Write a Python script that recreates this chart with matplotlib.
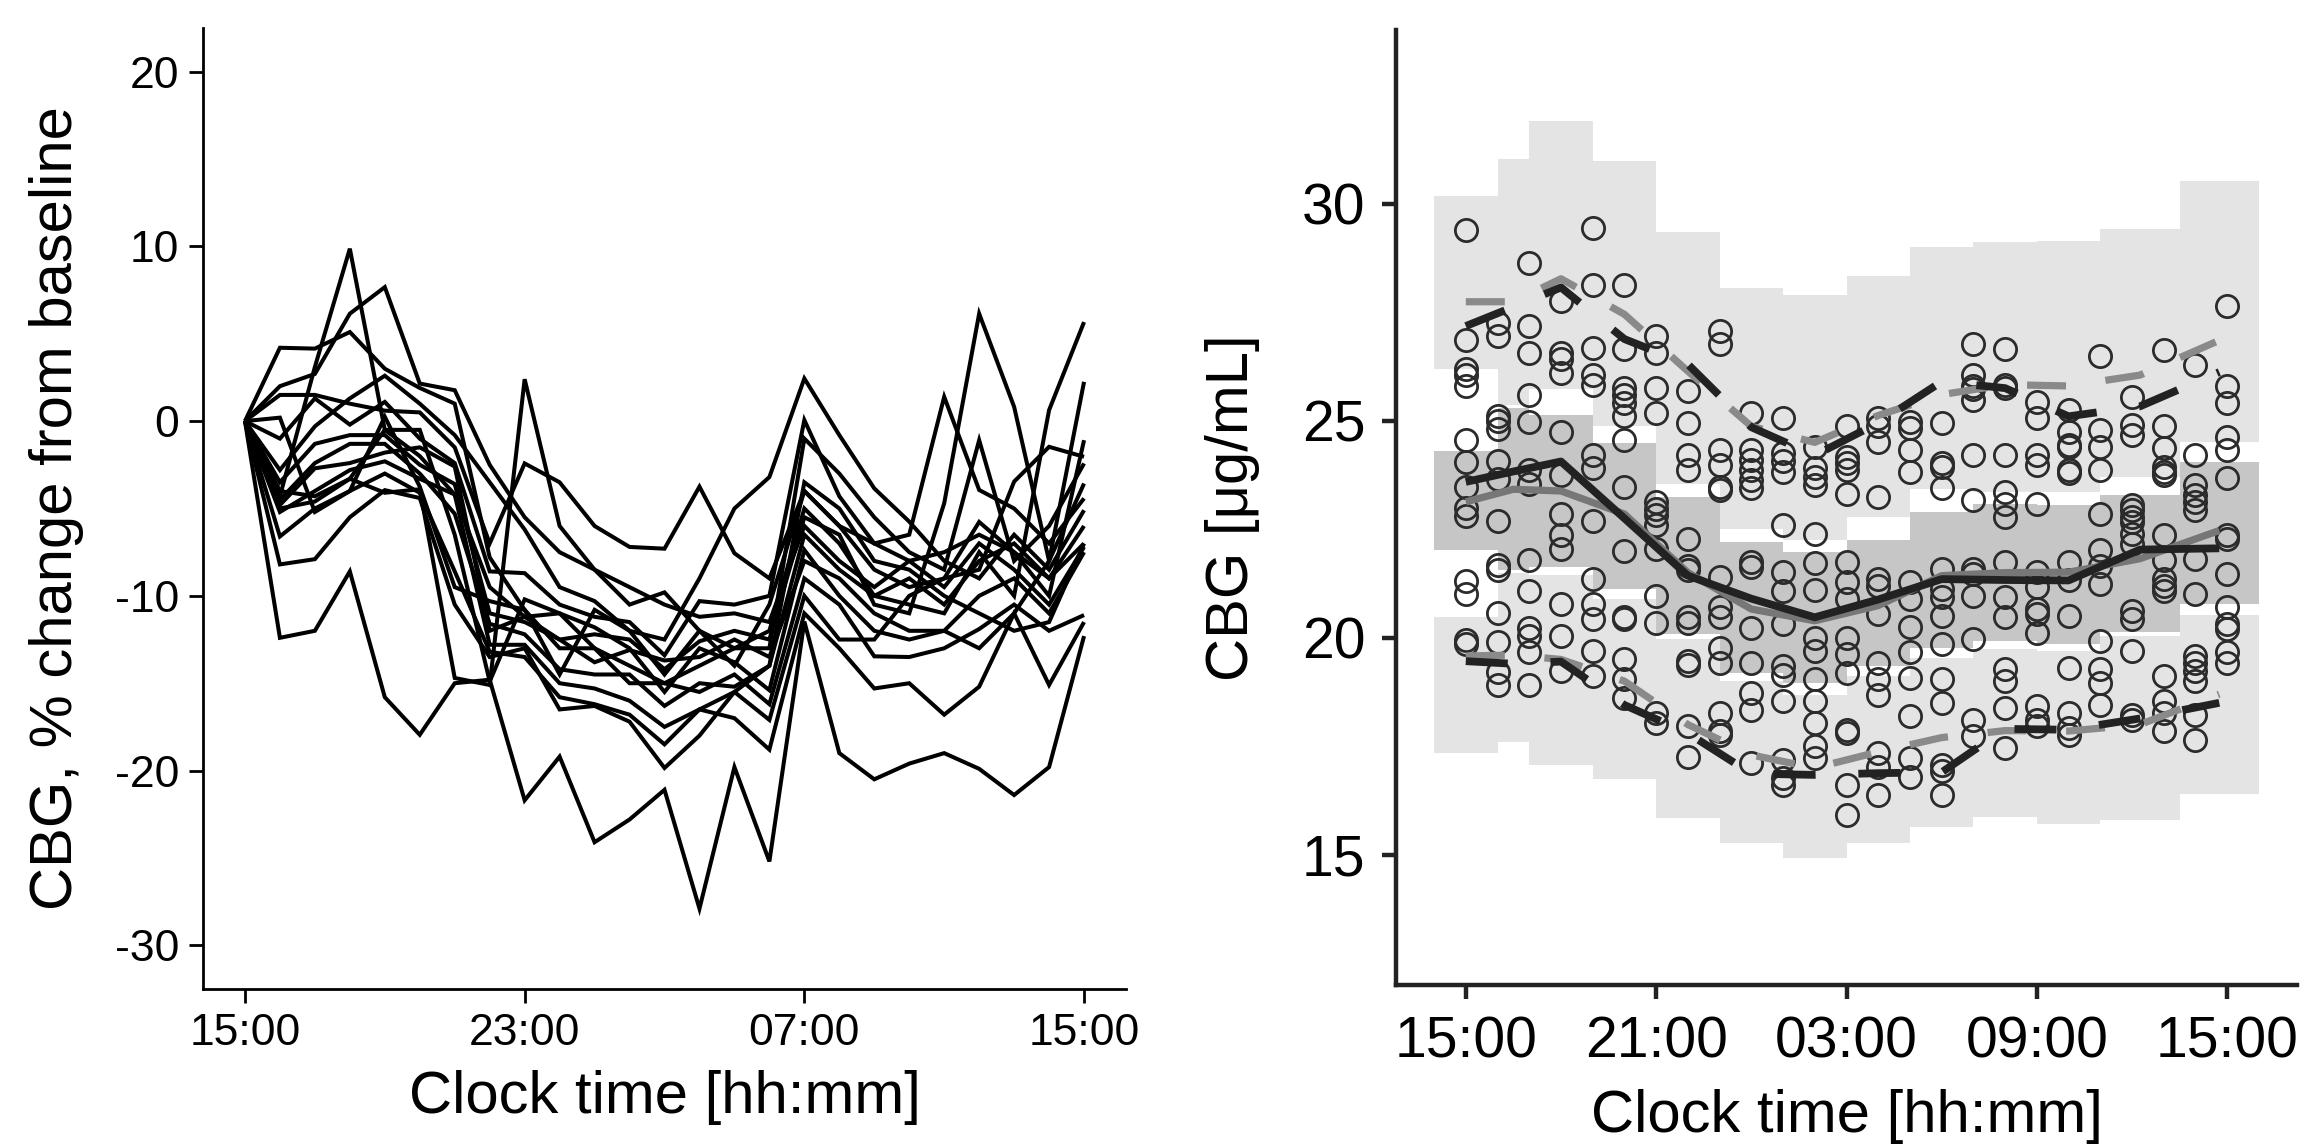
import matplotlib
matplotlib.use("Agg")
import matplotlib.pyplot as plt
import numpy as np

plt.rcParams['font.family'] = ['Liberation Sans', 'DejaVu Sans']

# ---------------- left panel: % change from baseline per subject ----------------
hours = list(range(25))
s01 = [0, -12.4, -12.0, -8.6, -15.8, -17.95, -15.0, -14.8, -21.7, -19.2, -24.1, -22.8, -21.1, -27.9, -19.8, -25.2, -11.47, -19.0, -20.5, -19.6, -19.0, -19.9, -21.4, -19.8, -12.3]
s02 = [0, -5.0, -4.6, -3.3, -4.1, -3.9, -14.7, -15.1, 2.4, -6.0, -8.5, -10.5, -9.8, -12.0, -13.0, -12.0, -5.0, -7.0, -10.0, -9.0, -10.5, -8.0, -7.0, -9.0, -7.0]
s03 = [0, -4.3, 3.1, 9.87, -0.5, -2.0, -4.2, -9.5, -11.2, -12.5, -13.8, -13.1, -13.7, -13.5, -12.5, -13.5, -8.0, -9.0, -11.0, -12.0, -12.0, -10.0, -9.0, -11.0, -7.5]
s04 = [0, 2.0, 2.7, 6.15, 7.67, 2.15, 1.77, -2.5, -5.5, -7.5, -8.5, -9.5, -10.5, -11.2, -11.0, -11.5, -6.0, -8.0, -9.5, -8.0, -9.5, -7.0, -8.5, -10.5, -7.2]
s05 = [0, 4.2, 4.15, 5.1, 3.0, 1.9, 1.0, -7.8, -10.8, -13.0, -13.0, -15.0, -15.0, -15.5, -14.5, -16.2, -9.0, -10.5, -13.46, -13.5, -13.0, -11.9, -10.5, -12.0, -11.1]
s06 = [0, 1.5, 1.5, 1.0, 0.6, 0.5, -1.5, -7.0, -2.42, -3.5, -6.0, -7.2, -7.3, -3.75, -7.56, -9.0, -4.0, -6.0, -7.0, -8.0, -7.5, -6.5, -7.5, -9.0, -6.0]
s07 = [0, -2.8, -0.3, 1.3, 2.6, 1.0, -0.8, -3.5, -6.2, -9.5, -10.3, -12.0, -12.5, -9.0, -5.0, -3.2, 2.44, -0.8, -3.85, -5.75, -8.0, -9.0, -6.5, -8.5, -5.1]
s08 = [0, -1.0, 1.3, -0.2, 1.1, -1.0, -2.4, -8.6, -8.7, -10.5, -11.2, -11.5, -13.4, -10.3, -10.5, -10.0, 0.06, -4.3, -7.0, -6.5, 1.39, -3.94, -5.0, -7.0, -4.42]
s09 = [0, -3.5, -1.3, -0.8, -0.8, -2.5, -3.6, -11.0, -11.5, -12.5, -12.2, -12.5, -14.2, -12.6, -12.0, -12.5, -5.5, -6.5, -10.5, -11.0, -4.7, 6.15, 0.82, -8.0, -3.57]
s10 = [0, -4.5, -2.4, -1.3, -1.3, -3.0, -5.3, -11.6, -12.2, -14.2, -14.5, -14.5, -16.3, -15.0, -15.2, -14.0, -6.5, -8.5, -10.0, -10.5, -11.0, -7.5, -10.0, 0.63, 5.67]
s11 = [0, -4.8, -2.7, -2.4, -1.8, -1.5, -2.6, -12.0, -11.2, -11.0, -11.8, -13.0, -15.5, -13.0, -13.8, -15.4, -7.37, -10.0, -12.0, -12.5, -12.0, -13.0, -11.0, -8.0, 2.25]
s12 = [0, -5.2, -4.0, -2.8, -2.3, -3.3, -4.2, -12.8, -12.8, -15.0, -15.3, -16.0, -17.5, -16.5, -15.5, -17.1, -10.0, -12.5, -12.5, -10.0, -9.0, -8.5, -3.46, -1.47, -2.04]
s13 = [0, -6.6, -5.0, -4.0, -3.0, -4.1, -8.6, -13.2, -13.5, -15.8, -16.2, -16.8, -18.5, -16.5, -17.0, -18.8, -11.0, -13.0, -15.3, -15.0, -16.8, -15.2, -11.0, -15.1, -11.5]
s14 = [0, -8.2, -7.9, -5.5, -3.95, -4.4, -10.5, -13.5, -13.0, -16.5, -16.3, -17.2, -19.85, -18.0, -15.5, -14.0, -3.5, -5.0, -8.0, -8.5, -10.0, -11.0, -12.0, -11.5, -7.0]
s15 = [0, -4.0, -4.3, -3.3, -0.5, -0.5, -6.5, -14.9, -10.2, -11.0, -13.0, -14.0, -15.0, -14.0, -13.0, -13.0, -1.0, -3.0, -5.5, -7.5, -8.5, -1.09, -8.0, -6.0, -2.42]
s16 = [0, 0.2, -5.2, -4.0, 0.25, -3.75, -9.5, -10.3, -10.8, -14.5, -10.8, -12.0, -14.5, -12.0, -14.0, -10.5, -4.0, -6.0, -8.5, -9.5, -9.0, -5.77, -7.5, -10.0, -1.09]
subjects = [s01, s02, s03, s04, s05, s06, s07, s08, s09, s10, s11, s12, s13, s14, s15, s16]

left_xticks = [0, 8, 16, 24]
left_xlabels = ['15:00', '23:00', '07:00', '15:00']
left_yticks = [-30, -20, -10, 0, 10, 20]
left_ylabels = ['-30', '-20', '-10', '0', '10', '20']

# ---------------- right panel: VPC ----------------
bin_edges = [-1, 1, 2, 4, 6, 8, 10, 12, 14, 16, 18, 20, 22.5, 25]
hi_top = [30.17, 31.02, 31.9, 30.99, 29.34, 28.05, 27.9, 28.34, 29.01, 29.11, 29.14, 29.42, 30.53]
hi_bot = [26.18, 25.35, 25.72, 24.87, 23.55, 22.51, 22.24, 22.78, 23.42, 23.36, 23.36, 23.71, 24.52]
med_top = [24.31, 25.29, 25.14, 24.48, 23.25, 22.2, 21.97, 22.24, 22.9, 23.09, 23.05, 23.28, 24.04]
med_bot = [22.01, 21.55, 21.62, 21.12, 20.08, 19.19, 18.96, 19.35, 19.77, 19.93, 19.85, 20.13, 20.78]
lo_top = [20.47, 21.5, 21.45, 20.89, 19.97, 19.0, 18.69, 19.12, 19.54, 19.73, 19.69, 20.04, 20.52]
lo_bot = [17.34, 17.59, 17.07, 16.74, 15.85, 15.26, 14.92, 15.27, 15.64, 15.86, 15.7, 15.8, 16.41]

bin_mid = [0, 1.5, 3, 5, 7, 9, 11, 13, 15, 17, 19, 21.25, 23.75]
obs_p50 = [23.59, 23.83, 24.06, 22.75, 21.43, 20.9, 20.47, 20.88, 21.35, 21.33, 21.32, 22.03, 22.06]
sim_p50 = [23.13, 23.42, 23.38, 22.85, 21.5, 20.66, 20.39, 20.74, 21.43, 21.5, 21.51, 21.82, 22.47]
obs_p95 = [27.18, 27.62, 28.07, 26.88, 26.3, 24.85, 24.2, 24.95, 25.9, 25.75, 25.1, 25.33, 26.12]
sim_p95 = [27.74, 27.74, 28.27, 27.45, 26.14, 24.87, 24.5, 25.12, 25.6, 25.83, 25.8, 26.05, 26.85]
obs_p05 = [19.46, 19.4, 19.45, 18.45, 17.8, 16.87, 16.84, 16.88, 16.9, 17.9, 17.88, 18.14, 18.5]
sim_p05 = [19.58, 19.6, 19.5, 19.0, 18.0, 17.3, 17.0, 17.37, 17.7, 17.86, 17.85, 18.0, 18.7]

c00 = [29.4, 26.85, 26.2, 26.05, 25.8, 24.55, 24.05, 23.48, 23.0, 22.8, 21.3, 21.0, 19.95, 19.85]
c01 = [27.25, 26.95, 25.1, 25.0, 24.8, 24.07, 23.65, 22.68, 21.68, 21.57, 20.58, 19.9, 19.2, 18.9]
c02 = [28.63, 27.18, 26.57, 25.6, 24.98, 23.86, 23.55, 21.78, 21.08, 20.23, 20.04, 19.66, 18.9]
c03 = [27.76, 26.57, 26.41, 26.1, 24.75, 23.75, 22.86, 22.36, 22.05, 20.78, 20.04, 19.23]
c04 = [29.44, 28.13, 26.67, 26.06, 25.83, 24.21, 23.9, 22.7, 21.35, 20.78, 20.43, 19.69, 19.12]
c05 = [28.13, 26.64, 25.75, 25.6, 25.4, 25.1, 24.56, 23.48, 22.0, 20.47, 20.42, 19.5, 19.04, 18.61]
c06 = [26.95, 26.57, 25.75, 25.18, 23.13, 22.97, 22.82, 22.59, 22.05, 20.97, 20.35, 18.27, 18.03]
c07 = [25.68, 24.94, 24.21, 23.86, 22.28, 21.66, 21.55, 20.47, 20.35, 19.46, 19.38, 17.96, 17.26]
c08 = [27.07, 26.76, 24.33, 23.98, 23.48, 23.4, 21.4, 20.7, 20.47, 19.77, 19.42, 18.27, 17.84, 17.76]
c09 = [25.18, 24.33, 24.1, 23.86, 23.63, 23.44, 21.74, 21.62, 20.23, 19.42, 18.73, 18.34, 17.11]
c10 = [25.06, 24.25, 24.06, 23.82, 22.59, 21.51, 21.08, 20.31, 19.35, 19.15, 18.54, 17.19, 16.76, 16.6]
c11 = [24.4, 23.9, 23.71, 23.52, 22.4, 21.72, 21.1, 20.0, 19.69, 19.04, 18.54, 18.03, 17.5, 17.22]
c12 = [24.87, 24.17, 24.02, 23.86, 23.32, 21.74, 21.28, 20.89, 20.0, 19.62, 19.19, 17.88, 17.8, 16.6, 15.91]
c13 = [25.06, 24.87, 24.52, 23.25, 21.35, 21.2, 20.54, 19.42, 19.04, 18.69, 17.34, 17.03, 16.38]
c14 = [24.98, 24.83, 24.33, 23.82, 21.28, 20.89, 20.25, 19.66, 19.08, 18.19, 17.22, 16.8]
c15 = [24.94, 24.02, 23.94, 23.44, 21.59, 21.12, 20.93, 20.5, 19.85, 19.04, 18.5, 17.07, 16.92, 16.38]
c16 = [26.77, 26.06, 25.79, 25.72, 25.48, 24.21, 23.17, 21.59, 21.47, 20.97, 19.97, 18.11, 17.73]
c17 = [26.64, 25.83, 25.75, 24.21, 23.36, 23.09, 22.78, 21.74, 20.93, 20.47, 19.27, 19.0, 18.38, 17.45]
c18 = [25.44, 25.06, 24.21, 23.98, 23.09, 21.51, 21.16, 20.66, 20.54, 20.12, 18.42, 18.11, 17.96]
c19 = [25.25, 24.75, 24.44, 24.4, 23.86, 23.79, 21.74, 21.32, 20.5, 19.31, 18.27, 17.92, 17.76]
c20 = [26.49, 24.79, 24.4, 23.86, 22.86, 22.01, 21.66, 21.24, 19.93, 19.27, 18.96, 18.46]
c21 = [25.54, 24.91, 24.67, 23.05, 22.94, 22.78, 22.67, 22.4, 22.17, 20.62, 20.43, 19.69, 18.23, 18.11]
c22 = [26.62, 24.87, 24.37, 23.94, 23.82, 23.75, 22.36, 21.78, 21.35, 21.2, 21.08, 19.12, 18.54, 18.27, 17.84]
c23 = [26.29, 24.21, 23.52, 23.28, 23.13, 22.94, 21.82, 21.01, 19.58, 19.42, 19.23, 19.0, 18.23, 17.65]
c24 = [27.65, 25.79, 25.4, 24.63, 24.33, 23.67, 22.36, 22.28, 21.47, 20.7, 20.31, 20.2, 19.66, 19.42]
obs_columns = [c00, c01, c02, c03, c04, c05, c06, c07, c08, c09, c10, c11, c12,
               c13, c14, c15, c16, c17, c18, c19, c20, c21, c22, c23, c24]

right_xticks = [0, 6, 12, 18, 24]
right_xlabels = ['15:00', '21:00', '03:00', '09:00', '15:00']
right_yticks = [15, 20, 25, 30]
right_ylabels = ['15', '20', '25', '30']

# ---------------- figure ----------------
W, H = 2306, 1145
fig = plt.figure(figsize=(W / 100, H / 100), dpi=100)

def frac_box(x0, y0, x1, y1):
    return [x0 / W, 1 - y1 / H, (x1 - x0) / W, (y1 - y0) / H]

# left axes
ax1 = fig.add_axes(frac_box(203, 28, 1126, 989))
for s in subjects:
    ax1.plot(hours, s, color='black', lw=2.9, solid_joinstyle='miter', solid_capstyle='butt')
ax1.set_xlim(-1.2, 25.2)
ax1.set_ylim(-32.5, 22.5)
ax1.set_xticks(left_xticks)
ax1.set_xticklabels(left_xlabels)
ax1.set_yticks(left_yticks)
ax1.set_yticklabels(left_ylabels)
ax1.set_xlabel('Clock time [hh:mm]', fontsize=43, labelpad=12)
ax1.set_ylabel('CBG, % change from baseline', fontsize=43, labelpad=22)
ax1.tick_params(axis='both', labelsize=32, length=10, width=2.0, color='black', pad=7)
for side in ['top', 'right']:
    ax1.spines[side].set_visible(False)
for side in ['left', 'bottom']:
    ax1.spines[side].set_linewidth(2.0)
    ax1.spines[side].set_color('black')

# right axes
ax2 = fig.add_axes(frac_box(1396, 30, 2297, 985))
widths = np.diff(bin_edges)
lefts = np.array(bin_edges[:-1])
light = '#E4E4E4'
dark = '#C6C6C6'
ax2.bar(lefts, np.array(hi_top) - np.array(hi_bot), bottom=hi_bot, width=widths,
        align='edge', color=light, linewidth=0, zorder=1)
ax2.bar(lefts, np.array(lo_top) - np.array(lo_bot), bottom=lo_bot, width=widths,
        align='edge', color=light, linewidth=0, zorder=1)
ax2.bar(lefts, np.array(med_top) - np.array(med_bot), bottom=med_bot, width=widths,
        align='edge', color=dark, linewidth=0, zorder=1.5)

for h, col in enumerate(obs_columns):
    ax2.plot([h] * len(col), col, linestyle='none', marker='o', markersize=16,
             markerfacecolor='none', markeredgecolor='#2B2B2B', markeredgewidth=2.0, zorder=3)

dash = (5.4, 5.5)
ax2.plot(bin_mid, sim_p50, color='#777777', lw=5.2, zorder=4, solid_capstyle='butt')
ax2.plot(bin_mid, sim_p95, color='#8A8A8A', lw=5.2, dashes=dash, zorder=4, dash_capstyle='butt')
ax2.plot(bin_mid, sim_p05, color='#8A8A8A', lw=5.2, dashes=dash, zorder=4, dash_capstyle='butt')
ax2.plot(bin_mid, obs_p50, color='#222222', lw=5.6, zorder=5, solid_capstyle='butt')
ax2.plot(bin_mid, obs_p95, color='#222222', lw=5.6, dashes=dash, zorder=5, dash_capstyle='butt')
ax2.plot(bin_mid, obs_p05, color='#222222', lw=5.6, dashes=dash, zorder=5, dash_capstyle='butt')

ax2.set_xlim(-2.2, 26.2)
ax2.set_ylim(12, 34)
ax2.set_xticks(right_xticks)
ax2.set_xticklabels(right_xlabels)
ax2.set_yticks(right_yticks)
ax2.set_yticklabels(right_ylabels)
ax2.set_xlabel('Clock time [hh:mm]', fontsize=43, labelpad=14)
ax2.set_ylabel('CBG [\u03bcg/mL]', fontsize=43, labelpad=30)
ax2.tick_params(axis='both', labelsize=41, length=10, width=3.2, color='#222222', pad=12)
for side in ['top', 'right']:
    ax2.spines[side].set_visible(False)
for side in ['left', 'bottom']:
    ax2.spines[side].set_linewidth(3.2)
    ax2.spines[side].set_color('#222222')

fig.savefig('out.png', dpi=100)
